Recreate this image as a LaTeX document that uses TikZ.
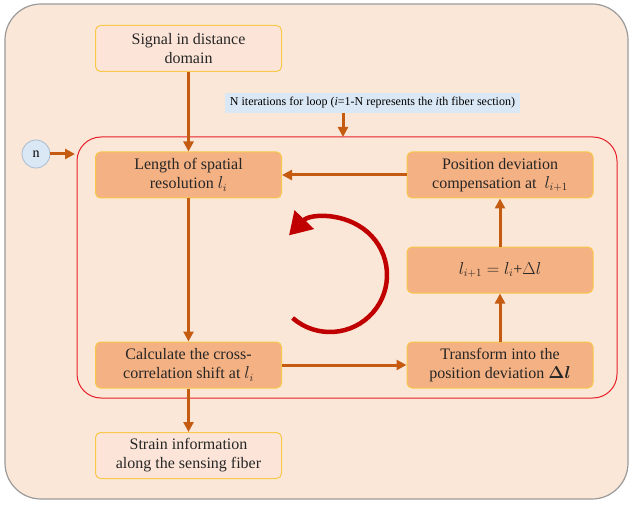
\documentclass[tikz,border=0pt]{standalone}
\usepackage{amsmath}
\usepackage{amssymb}
\usepackage{fontspec}
\setmainfont{Liberation Serif}
\usepackage{tikz}
\usetikzlibrary{arrows.meta}

\definecolor{peach}{HTML}{FBE7D8}
\definecolor{framegray}{HTML}{9A9A9A}
\definecolor{loopred}{HTML}{E8202A}
\definecolor{boxgold}{HTML}{F8C84A}
\definecolor{boxorange}{HTML}{F4B183}
\definecolor{boxlight}{HTML}{FCE5D8}
\definecolor{flowarrow}{HTML}{C55A11}
\definecolor{turnred}{HTML}{C00000}
\definecolor{paleblue}{HTML}{DAE7F4}
\definecolor{circleline}{HTML}{A9BCD0}

\begin{document}
\begin{tikzpicture}[x=1pt,y=1pt]
        \useasboundingbox (0,0) rectangle (631,504);
        \draw[fill=peach, draw=framegray, line width=1.2pt, rounded corners=36pt] (5,5) rectangle (628,500);
        \draw[draw=loopred, line width=1pt, rounded corners=24pt] (77,106) rectangle (617,367);

        \begin{scope}[every node/.style={rounded corners=5pt, draw=boxgold, line width=1pt, minimum width=186pt, minimum height=46pt, inner sep=0pt, align=center, text=black!85, font=\fontsize{16}{19}\selectfont}]
            \node[fill=boxlight] (1) at (188.5,455.5) {Signal in distance\\domain};
            \node[fill=boxorange] (2) at (188.5,329) {Length of spatial\\resolution $l_i$};
            \node[fill=boxorange] (3) at (500,329) {Position deviation\\compensation at~~$l_{i+1}$};
            \node[fill=boxorange] (4) at (500,234) {$l_{i+1} = l_i$+$\Delta l$};
            \node[fill=boxorange] (5) at (188.5,139) {Calculate the cross-\\correlation shift at $l_i$};
            \node[fill=boxorange] (6) at (500,139) {Transform into the\\position deviation $\boldsymbol{\Delta l}$};
            \node[fill=boxlight] (7) at (188.5,48.5) {Strain information\\along the sensing fiber};
        \end{scope}

        \node[circle, fill=paleblue, draw=circleline, line width=0.8pt, minimum size=28pt, inner sep=0pt, font=\fontsize{14}{14}\selectfont] (8) at (36,350) {n};
        \node[fill=paleblue, minimum width=295pt, minimum height=20pt, inner sep=0pt, font=\fontsize{12}{12}\selectfont] (9) at (372.5,401) {N iterations for loop (\textit{i}=1-N represents the \textit{i}th fiber section)};
        \coordinate (10) at (75,350);
        \coordinate (11) at (343,367);

        \begin{scope}[every edge/.style={draw=flowarrow, line width=3pt, -{Triangle[length=10pt,width=10pt]}}]
            \path (1) edge (2);
            \path (2) edge (5);
            \path (5) edge (7);
            \path (5) edge (6);
            \path (6) edge (4);
            \path (4) edge (3);
            \path (3) edge (2);
            \path (8) edge (10);
            \path (9.south -| 11) edge (11);
        \end{scope}

        \draw[turnred, line width=4.5pt, -{Triangle[length=22pt,width=26pt]}] (330,229) ++(-131:57) arc[start angle=-131, end angle=136, radius=57];
    \end{tikzpicture}
\end{document}
